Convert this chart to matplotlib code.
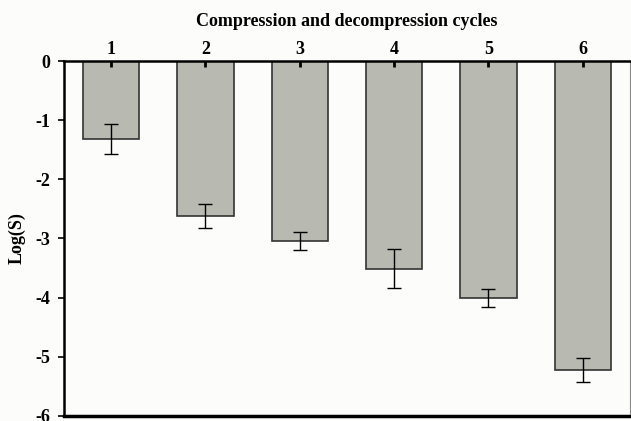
import matplotlib.pyplot as plt

cycles = ['1', '2', '3', '4', '5', '6']
log_s = [-1.32, -2.62, -3.04, -3.51, -4.00, -5.22]
err = [0.25, 0.20, 0.15, 0.33, 0.15, 0.20]

plt.rcParams['font.family'] = 'Liberation Serif'
plt.rcParams['font.weight'] = 'bold'
plt.rcParams['axes.unicode_minus'] = False

fig = plt.figure(figsize=(6.31, 4.21), dpi=100, facecolor='#fcfcfa')
ax = fig.add_axes([0.1014, 0.012, 0.897, 0.843], facecolor='#fcfcfa')

x = list(range(1, len(cycles) + 1))
ax.bar(x, log_s, width=0.6, color='#b8b9b0', edgecolor='#333333', linewidth=1.2)
ax.errorbar(x, log_s, yerr=err, fmt='none', ecolor='black', elinewidth=1, capsize=5, capthick=1)

ax.set_xlim(0.5, 6.5)
ax.set_ylim(-6, 0)
ax.set_yticks([0, -1, -2, -3, -4, -5, -6])
ax.set_yticklabels(['0', '-1', '-2', '-3', '-4', '-5', '-6'], fontsize=13, fontweight='bold')
ax.xaxis.tick_top()
ax.xaxis.set_label_position('top')
ax.set_xticks(x)
ax.set_xticklabels(cycles, fontsize=13, fontweight='bold')
ax.tick_params(axis='x', direction='in', length=4, width=2, pad=2)
ax.tick_params(axis='y', direction='out', length=4, width=1.2, pad=6)
ax.set_xlabel('Compression and decompression cycles', fontsize=13, fontweight='bold', labelpad=11)
ax.set_ylabel('Log(S)', fontsize=13, fontweight='bold', labelpad=7)

ax.spines['top'].set_linewidth(1.8)
ax.spines['left'].set_linewidth(1.8)
ax.spines['bottom'].set_linewidth(2.5)
ax.spines['right'].set_linewidth(0.8)
ax.spines['right'].set_color('#888888')

plt.savefig('out.png', dpi=100, facecolor=fig.get_facecolor())
